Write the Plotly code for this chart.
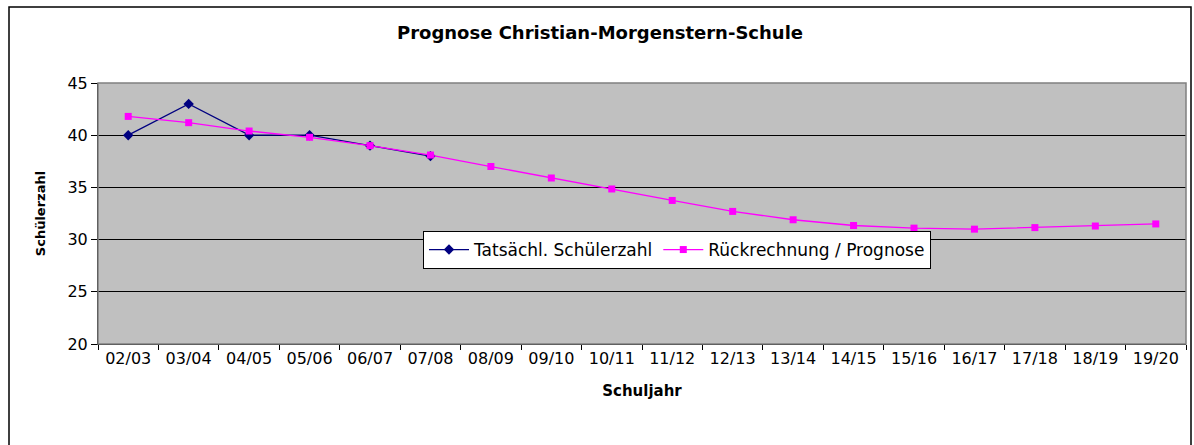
import plotly.graph_objects as go

years = ["02/03", "03/04", "04/05", "05/06", "06/07", "07/08", "08/09", "09/10", "10/11",
         "11/12", "12/13", "13/14", "14/15", "15/16", "16/17", "17/18", "18/19", "19/20"]
actual_years = years[:6]
actual = [40, 43, 40, 40, 39, 38]
forecast = [41.8, 41.2, 40.4, 39.8, 39.0, 38.1, 37.0, 35.9, 34.85, 33.75, 32.7, 31.9,
            31.35, 31.1, 31.0, 31.15, 31.3, 31.5]

W, H = 1194, 445
L, R, T, B = 98, 1186, 83, 344

FONT = "DejaVu Sans, Arial, sans-serif"

fig = go.Figure()
fig.add_trace(go.Scatter(
    x=actual_years, y=actual, mode="lines+markers", name="Tatsächl. Schülerzahl",
    line=dict(color="#000080", width=1.3),
    marker=dict(symbol="diamond", size=8, color="#000080"),
))
fig.add_trace(go.Scatter(
    x=years, y=forecast, mode="lines+markers", name="Rückrechnung / Prognose",
    line=dict(color="#FF00FF", width=1.3),
    marker=dict(symbol="square", size=7, color="#FF00FF"),
))

pw = R - L
ph = B - T
def px(x):
    return (x - L) / pw
def py(y):
    return (B - y) / ph

fig.add_shape(type="rect", xref="paper", yref="paper",
              x0=px(9), x1=px(1191), y0=py(470), y1=py(7),
              line=dict(color="black", width=1.5), fillcolor="rgba(0,0,0,0)", layer="below")
fig.add_shape(type="rect", xref="paper", yref="paper",
              x0=0, x1=1, y0=0, y1=1,
              line=dict(color="#808080", width=1.5), fillcolor="rgba(0,0,0,0)", layer="above")

fig.update_layout(
    width=W, height=H,
    margin=dict(l=L, r=W - R, t=T, b=H - B, pad=0),
    paper_bgcolor="white",
    plot_bgcolor="#C0C0C0",
    font=dict(family=FONT, size=16, color="black"),
    title=dict(text="<b>Prognose Christian-Morgenstern-Schule</b>",
               x=600 / W, xref="container", xanchor="center",
               y=1 - 33 / H, yref="container", yanchor="middle",
               font=dict(size=18, family=FONT, color="black")),
    showlegend=True,
    legend=dict(orientation="h", x=px(423), y=py(231), xanchor="left", yanchor="top",
                bgcolor="white", bordercolor="black", borderwidth=1,
                font=dict(size=17, family=FONT), itemwidth=40,
                tracegroupgap=0),
    xaxis=dict(
        type="category", categoryorder="array", categoryarray=years,
        range=[-0.5, len(years) - 0.5],
        showline=True, linecolor="black", linewidth=1,
        ticks="outside", ticklen=5, tickcolor="black", tickson="boundaries",
        showgrid=False, zeroline=False,
        tickfont=dict(size=16, family=FONT),
        title=dict(text="<b>Schuljahr</b>", font=dict(size=15, family=FONT), standoff=18),
    ),
    yaxis=dict(
        range=[20, 45], dtick=5, tick0=20,
        showline=True, linecolor="black", linewidth=1,
        ticks="outside", ticklen=6, tickcolor="black",
        showgrid=True, gridcolor="black", gridwidth=1,
        zeroline=False,
        tickfont=dict(size=16, family=FONT),
        title=dict(text="<b>Schülerzahl</b>", font=dict(size=13, family=FONT), standoff=18),
    ),
)

fig.write_html("out.html", config={"displayModeBar": False},
               post_script="document.body.style.margin='0';")
